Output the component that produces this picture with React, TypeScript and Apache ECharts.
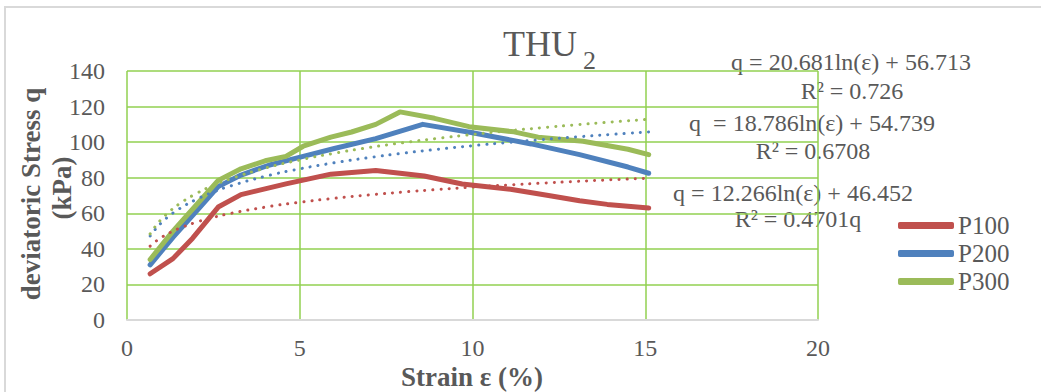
import React, { useEffect, useRef } from "react";
import * as echarts from "echarts";

const p100Strain = [0.67, 1.33, 1.9, 2.64, 3.3, 4.6, 5.9, 7.2, 8.6, 9.7, 11.1, 12.2, 13.1, 13.9, 15.1];
const p100Stress = [26, 34.5, 46, 63.5, 70.5, 76.5, 82, 84, 81, 76.5, 73.5, 70, 67, 65, 63];

const p200Strain = [0.67, 1.33, 2.0, 2.64, 3.3, 4.1, 5.1, 6.0, 7.2, 8.56, 10.0, 11.7, 13.1, 14.5, 15.1];
const p200Stress = [31, 46.5, 61, 75, 81.5, 87, 92, 96.4, 102, 110, 105.3, 99, 93, 86, 82.5];

const p300Strain = [0.67, 1.33, 2.0, 2.64, 3.3, 4.0, 4.6, 5.1, 5.9, 6.5, 7.2, 7.9, 8.9, 9.9, 11.2, 11.9, 13.2, 14.5, 15.1];
const p300Stress = [34, 50, 64.5, 78.5, 85, 89.5, 92, 97.7, 102.8, 105.7, 110, 117, 113.4, 108.7, 105.8, 102.8, 100.5, 96, 93];

// Logarithmic trendlines q = a ln(eps) + b, coefficients as printed on the chart
const trendA = [12.266, 18.786, 20.681];
const trendB = [46.452, 54.739, 56.713];
const trendStrain = [0.67, 0.8, 1, 1.25, 1.5, 2, 2.5, 3, 4, 5, 6, 7, 8, 9, 10, 11, 12, 13, 14, 15.1];

const seriesNames = ["P100", "P200", "P300"];
const colors = ["#C0504D", "#4F81BD", "#9BBB59"];

const xTicks = [0, 5, 10, 15, 20];
const yTicks = [0, 20, 40, 60, 80, 100, 120, 140];

const equations = [
  "q = 20.681ln(ε) + 56.713",
  "R² = 0.726",
  "q  = 18.786ln(ε) + 54.739",
  "R² = 0.6708",
  "q = 12.266ln(ε) + 46.452",
  "R² = 0.4701q",
];

const FONT = "'Liberation Serif', serif";
const GRAY = "#595959";

export default function App() {
  const ref = useRef<HTMLDivElement>(null);
  useEffect(() => {
    if (!ref.current) return;
    const chart = echarts.init(ref.current, undefined, { renderer: "svg" });
    const mainData = [
      p100Strain.map((x, i) => [x, p100Stress[i]]),
      p200Strain.map((x, i) => [x, p200Stress[i]]),
      p300Strain.map((x, i) => [x, p300Stress[i]]),
    ];
    const mainSeries = mainData.map((d, i) => ({
      name: seriesNames[i],
      type: "line",
      data: d,
      symbol: "none",
      lineStyle: { color: colors[i], width: 5, cap: "round", join: "round" },
      itemStyle: { color: colors[i] },
      z: 2,
    }));
    const trendSeries = trendA.map((a, i) => ({
      name: seriesNames[i] + " trend",
      type: "line",
      data: trendStrain.map((x) => [x, a * Math.log(x) + trendB[i]]),
      symbol: "none",
      smooth: true,
      lineStyle: { color: colors[i], width: 3, type: [0.1, 8], cap: "round" },
      itemStyle: { color: colors[i] },
      z: 3,
    }));
    const eqPos = [
      [851, 62],
      [852, 91],
      [812, 123],
      [813, 151],
      [793, 193],
      [798, 219],
    ];
    chart.setOption({
      animation: false,
      grid: { left: 127, right: 223, top: 71, bottom: 72, containLabel: false },
      xAxis: {
        type: "value",
        min: 0,
        max: 20,
        interval: 5,
        axisLine: { show: true, lineStyle: { color: "#D9D9D9", width: 2 } },
        axisTick: { show: false },
        axisLabel: { color: GRAY, fontFamily: FONT, fontSize: 24, margin: 16 },
        splitLine: { show: true, lineStyle: { color: "#92D050", width: 1.5 } },
      },
      yAxis: {
        type: "value",
        min: 0,
        max: 140,
        interval: 20,
        axisLine: { show: false },
        axisTick: { show: false },
        axisLabel: { color: GRAY, fontFamily: FONT, fontSize: 24, margin: 22 },
        splitLine: { show: true, lineStyle: { color: "#92D050", width: 1.5 } },
      },
      legend: {
        orient: "vertical",
        left: 898,
        top: 213,
        padding: 0,
        itemWidth: 56,
        itemHeight: 7,
        itemGap: 3,
        icon: "roundRect",
        data: seriesNames,
        textStyle: { color: GRAY, fontFamily: FONT, fontSize: 25, padding: [0, 0, 0, -1] },
      },
      graphic: [
        {
          type: "rect",
          shape: { x: 5, y: 7, width: 1200, height: 600 },
          style: { fill: "none", stroke: "#D9D9D9", lineWidth: 2 },
          silent: true,
        },
        {
          type: "text",
          x: 503,
          y: 62,
          style: { text: "THU", font: `36px ${FONT}`, fill: GRAY, textVerticalAlign: "bottom" },
        },
        {
          type: "text",
          x: 583,
          y: 73,
          style: { text: "2", font: `26px ${FONT}`, fill: GRAY, textVerticalAlign: "bottom" },
        },
        ...equations.map((t, i) => ({
          type: "text",
          x: eqPos[i][0],
          y: eqPos[i][1],
          style: {
            text: t,
            font: `24px ${FONT}`,
            fill: GRAY,
            textAlign: "center",
            textVerticalAlign: "middle",
          },
        })),
        {
          type: "text",
          x: 472,
          y: 377,
          style: {
            text: "Strain ε (%)",
            font: `bold 27px ${FONT}`,
            fill: GRAY,
            textAlign: "center",
            textVerticalAlign: "middle",
          },
        },
        {
          type: "text",
          x: 31,
          y: 194,
          rotation: Math.PI / 2,
          style: {
            text: "deviatoric Stress q",
            font: `bold 27px ${FONT}`,
            fill: GRAY,
            textAlign: "center",
            textVerticalAlign: "middle",
          },
        },
        {
          type: "text",
          x: 62,
          y: 188,
          rotation: Math.PI / 2,
          style: {
            text: "(kPa)",
            font: `bold 27px ${FONT}`,
            fill: GRAY,
            textAlign: "center",
            textVerticalAlign: "middle",
          },
        },
      ],
      series: [...mainSeries, ...trendSeries],
    });
    return () => chart.dispose();
  }, []);
  return (
    <div
      ref={ref}
      style={{ position: "absolute", left: 0, top: 0, width: 1041, height: 392, background: "#fff" }}
    />
  );
}
